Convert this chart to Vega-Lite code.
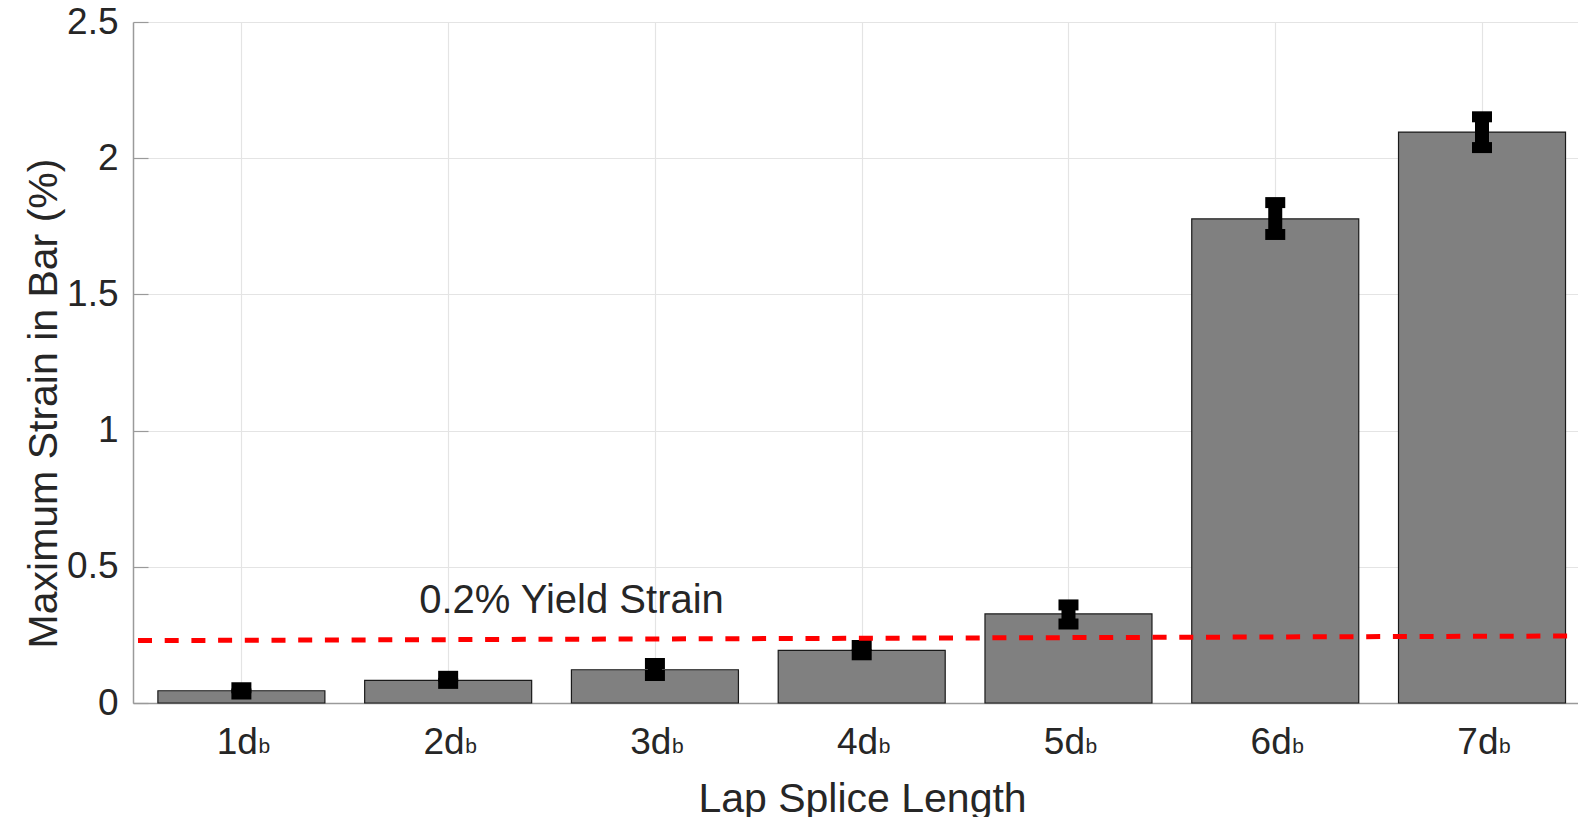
{
  "$schema": "https://vega.github.io/schema/vega-lite/v6.json",
  "width": 1445,
  "height": 681,
  "autosize": {"type": "none"},
  "padding": {"left": 133, "top": 22, "right": 0, "bottom": 114},
  "background": "white",
  "config": {
    "view": {"stroke": null},
    "font": "Liberation Sans",
    "axis": {"labelColor": "#262626", "titleColor": "#262626", "titleFontWeight": "normal"}
  },
  "datasets": {
    "splices": [
      {"length": 1, "strain": 0.045, "lo": 0.033, "hi": 0.056},
      {"length": 2, "strain": 0.083, "lo": 0.072, "hi": 0.098},
      {"length": 3, "strain": 0.122, "lo": 0.101, "hi": 0.145},
      {"length": 4, "strain": 0.193, "lo": 0.177, "hi": 0.211},
      {"length": 5, "strain": 0.327, "lo": 0.29, "hi": 0.36},
      {"length": 6, "strain": 1.777, "lo": 1.72, "hi": 1.837},
      {"length": 7, "strain": 2.096, "lo": 2.039, "hi": 2.152}
    ],
    "yieldLine": [
      {"length": 0.5, "strain": 0.229},
      {"length": 7.44, "strain": 0.246}
    ],
    "notes": [
      {"length": 1.86, "strain": 0.33, "label": "0.2% Yield Strain"}
    ]
  },
  "layer": [
    {
      "data": {"name": "splices"},
      "mark": {"type": "bar", "orient": "vertical", "size": 167, "color": "#808080", "stroke": "#1a1a1a", "strokeWidth": 1.2},
      "encoding": {
        "x": {
          "field": "length", "type": "quantitative",
          "scale": {"domain": [0.5, 7.44], "nice": false, "zero": false},
          "title": "Lap Splice Length",
          "axis": {
            "values": [1, 2, 3, 4, 5, 6, 7],
            "labelExpr": "datum.value + 'd'",
            "labelAlign": "right",
            "labelOffset": 16,
            "labelBaseline": "alphabetic",
            "labelPadding": 50,
            "labelFontSize": 37,
            "ticks": false,
            "grid": true,
            "gridColor": "#e4e4e4",
            "gridWidth": 1.2,
            "domainColor": "#9a9a9a",
            "domainWidth": 1.5,
            "titleFontSize": 41,
            "titleBaseline": "alphabetic",
            "titleX": 729,
            "titleY": 108,
            "titleAnchor": null
          }
        },
        "y": {
          "field": "strain", "type": "quantitative",
          "scale": {"domain": [0, 2.5], "nice": false},
          "title": "Maximum Strain in Bar (%)",
          "axis": {
            "values": [0, 0.5, 1, 1.5, 2, 2.5],
            "format": "~g",
            "labelFontSize": 37,
            "labelBaseline": "middle",
            "labelPadding": 30,
            "ticks": true,
            "tickSize": -15,
            "tickColor": "#9a9a9a",
            "tickWidth": 1.2,
            "grid": true,
            "gridColor": "#e4e4e4",
            "gridWidth": 1.2,
            "domainColor": "#9a9a9a",
            "domainWidth": 1.5,
            "titleFontSize": 41,
            "titleAngle": 270,
            "titleBaseline": "alphabetic",
            "titleX": -77,
            "titleY": 381,
            "titleAnchor": null
          }
        }
      }
    },
    {
      "mark": {"type": "rule", "color": "#9a9a9a", "strokeWidth": 1.5},
      "encoding": {"y": {"datum": 2.5}}
    },
    {
      "data": {"name": "splices"},
      "mark": {"type": "rule", "color": "black", "strokeWidth": 14},
      "encoding": {
        "x": {"field": "length", "type": "quantitative"},
        "y": {"field": "lo", "type": "quantitative", "title": "Maximum Strain in Bar (%)"},
        "y2": {"field": "hi"}
      }
    },
    {
      "data": {"name": "splices"},
      "mark": {"type": "tick", "color": "black", "size": 20, "thickness": 11, "orient": "horizontal", "opacity": 1},
      "encoding": {
        "x": {"field": "length", "type": "quantitative"},
        "y": {"field": "lo", "type": "quantitative", "title": "Maximum Strain in Bar (%)"}
      }
    },
    {
      "data": {"name": "splices"},
      "mark": {"type": "tick", "color": "black", "size": 20, "thickness": 11, "orient": "horizontal", "opacity": 1},
      "encoding": {
        "x": {"field": "length", "type": "quantitative"},
        "y": {"field": "hi", "type": "quantitative", "title": "Maximum Strain in Bar (%)"}
      }
    },
    {
      "data": {"name": "yieldLine"},
      "mark": {"type": "line", "color": "#ff0000", "strokeWidth": 5, "strokeDash": [14, 12.7]},
      "encoding": {
        "x": {"field": "length", "type": "quantitative"},
        "y": {"field": "strain", "type": "quantitative"}
      }
    },
    {
      "data": {"name": "notes"},
      "mark": {"type": "text", "align": "left", "baseline": "alphabetic", "fontSize": 40, "color": "#262626"},
      "encoding": {
        "x": {"field": "length", "type": "quantitative"},
        "y": {"field": "strain", "type": "quantitative"},
        "text": {"field": "label"}
      }
    },
    {
      "data": {"name": "splices"},
      "mark": {"type": "text", "text": "b", "align": "left", "baseline": "alphabetic", "fontSize": 21, "dx": 17, "dy": 50, "color": "#262626"},
      "encoding": {
        "x": {"field": "length", "type": "quantitative"},
        "y": {"datum": 0}
      }
    }
  ]
}
